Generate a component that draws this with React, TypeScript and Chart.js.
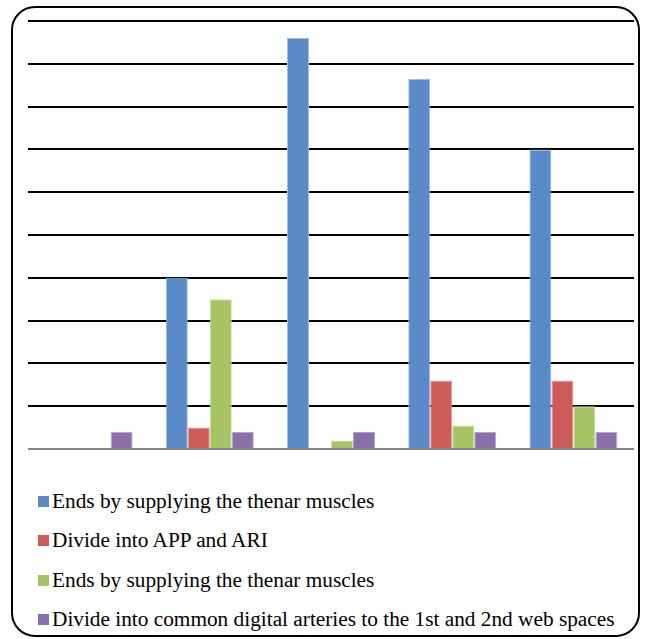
import React, { useEffect, useRef } from "react";
import { Chart, registerables } from "chart.js";

Chart.register(...registerables);

const categories = ["1", "2", "3", "4", "5"];
const seriesNames = [
  "Ends by supplying the thenar muscles",
  "Divide into APP and ARI",
  "Ends by supplying the thenar muscles",
  "Divide into common digital arteries to the 1st and 2nd web spaces",
];
const seriesA = [0, 40, 96, 86.5, 70];
const seriesB = [0, 5, 0, 16, 16];
const seriesC = [0, 35, 2, 5.5, 10];
const seriesD = [4, 4, 4, 4, 4];
const seriesValues = [seriesA, seriesB, seriesC, seriesD];
const fillColors = ["#5A8AC8", "#CD5B57", "#A6C464", "#8B6FAB"];
const edgeColors = ["#9DBDE6", "#E09A97", "#C8DE9C", "#B5A2CC"];
const yMin = 0;
const yMax = 100;
const yStep = 10;

export default function App() {
  const canvasRef = useRef<HTMLCanvasElement | null>(null);

  useEffect(() => {
    const canvas = canvasRef.current;
    if (!canvas) return;
    const chart = new Chart(canvas, {
      type: "bar",
      data: {
        labels: categories,
        datasets: seriesValues.map((vals, i) => ({
          label: seriesNames[i],
          data: vals,
          backgroundColor: fillColors[i],
          borderColor: edgeColors[i],
          borderWidth: 1,
          barPercentage: 1,
          categoryPercentage: 0.726,
        })),
      },
      options: {
        responsive: false,
        animation: false,
        layout: { padding: { left: 28, right: 13, top: 21, bottom: 13 } },
        plugins: {
          legend: { display: false },
          tooltip: { enabled: false },
        },
        scales: {
          x: {
            grid: { display: false },
            border: { display: false },
            ticks: { display: false, padding: 0 },
          },
          y: {
            min: yMin,
            max: yMax,
            grid: {
              color: (ctx: any) => (ctx.tick && ctx.tick.value === 0 ? "#888888" : "#000000"),
              lineWidth: 2,
              drawTicks: false,
            },
            border: { display: false },
            ticks: { display: false, stepSize: yStep, padding: 0 },
          },
        },
      },
    });
    return () => chart.destroy();
  }, []);

  return (
    <div>
      <div
        style={{
          position: "absolute",
          left: 11,
          top: 6,
          width: 629,
          height: 631,
          border: "2px solid #000",
          borderRadius: 24,
          boxSizing: "border-box",
        }}
      />
      <canvas
        ref={canvasRef}
        width={647}
        height={470}
        style={{ position: "absolute", left: 0, top: 0 }}
      />
      <div
        style={{
          position: "absolute",
          left: 38,
          top: 481.9,
          color: "#000",
        }}
      >
        {seriesNames.map((name, i) => (
          <div
            key={i}
            style={{ display: "flex", alignItems: "center", height: 39.3, whiteSpace: "nowrap" }}
          >
            <span
              style={{
                display: "inline-block",
                width: 11,
                height: 11,
                background: fillColors[i],
                marginRight: 3,
              }}
            />
            <span style={{ fontFamily: "\"Liberation Serif\"", fontSize: "21.3px" }}>{name}</span>
          </div>
        ))}
      </div>
    </div>
  );
}
